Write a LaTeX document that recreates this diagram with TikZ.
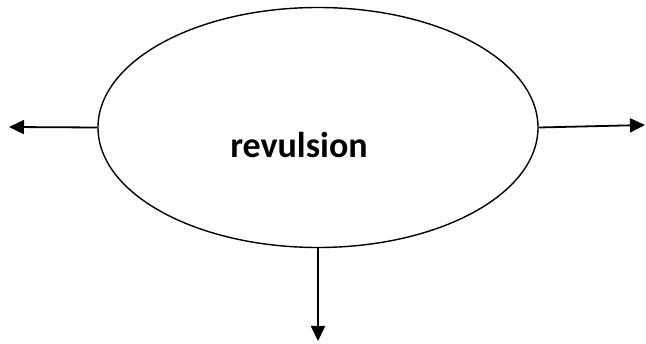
\documentclass[tikz,border=0pt]{standalone}
\usepackage{fontspec}
\setmainfont{Carlito}
\usetikzlibrary{shapes.geometric,arrows.meta}
\tikzset{
    bubble/.style={ellipse, draw, line width=1.4pt, minimum width=440pt, minimum height=240pt, inner sep=0pt},
    outarrow/.style={line width=1.8pt, -{Triangle[length=15pt,width=14pt]}},
}
\begin{document}
\begin{tikzpicture}[x=1pt,y=-1pt]
    \useasboundingbox (0,0) rectangle (646,344);
    % the ellipse and its word
    \node[bubble] (revul) at (318,127.5) {};
    \node[font=\bfseries\fontsize{36}{40}\selectfont] (word) at (299,145) {revulsion};
    
    % free ends of the arrows
    \coordinate (lefttip) at (9,127);
    \coordinate (righttip) at (645,125);
    \coordinate (downtip) at (318,341);
    
    \draw[outarrow] (revul.west) -- (lefttip);
    \draw[outarrow] (revul.east) -- (righttip);
    \draw[outarrow] (revul.south) -- (downtip);
\end{tikzpicture}
\end{document}
